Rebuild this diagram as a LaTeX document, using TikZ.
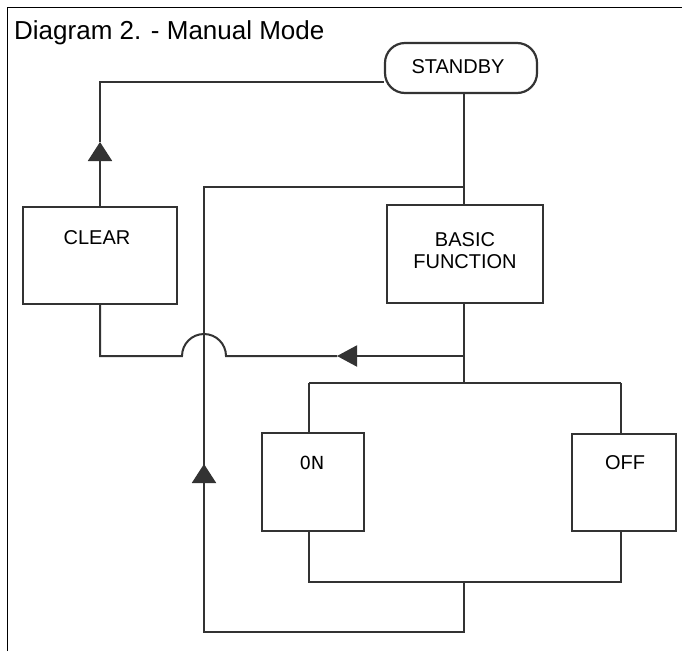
\documentclass[tikz,border=0pt]{standalone}
\usepackage{fontspec}
\setmainfont{Liberation Sans}
\newfontfamily\zerofont{DejaVu Sans}
\usetikzlibrary{arrows.meta,backgrounds}
\tikzset{
  wire/.style={draw=black!80, line width=2pt},
  boxnode/.style={draw=black!80, line width=2.2pt, fill=white, inner sep=0pt},
  lbl/.style={font=\fontsize{20}{22}\selectfont, align=center, inner sep=0pt},
  uptip/.style={-{Triangle[length=19pt,width=24pt]}},
  lefttip/.style={-{Triangle[length=20pt,width=21pt]}},
}
\begin{document}
\begin{tikzpicture}[x=1pt,y=-1pt]
\useasboundingbox (0,0) rectangle (682,651);
% frame
\draw[black, line width=1pt] (7,651) -- (7,7) -- (682,7);
\node[anchor=base west, font=\fontsize{26}{28}\selectfont, inner sep=0pt] (title) at (14,39) {Diagram 2. - Manual Mode};
% boxes
\node[boxnode, rounded corners=20pt, minimum width=152pt, minimum height=50pt] (standby) at (461,68) {};
\node[lbl] (standbyt) at (458,67) {STANDBY};
\node[boxnode, minimum width=154pt, minimum height=97pt] (clear) at (100,255.5) {};
\node[lbl] (cleart) at (97,238) {CLEAR};
\node[boxnode, minimum width=156pt, minimum height=98pt] (basic) at (465,254) {};
\node[lbl] (basict) at (465,251) {BASIC\\FUNCTION};
\node[boxnode, minimum width=102pt, minimum height=98pt] (on) at (313,482) {};
\node[lbl, font=\zerofont\fontsize{18}{20}\selectfont] (ont) at (312,463) {0N};
\node[boxnode, minimum width=104pt, minimum height=97pt] (off) at (624,482.5) {};
\node[lbl] (offt) at (625,463) {OFF};
% junction coordinates
\coordinate (a1) at (100,82);
\coordinate (a2) at (100,142);
\coordinate (j1) at (464,187);
\coordinate (j1l) at (204,187);
\coordinate (j2) at (464,356);
\coordinate (t2) at (337,356);
\coordinate (arcr) at (226,356);
\coordinate (arcl) at (182,356);
\coordinate (c2) at (100,356);
\coordinate (j3) at (464,383);
\coordinate (onup) at (309,383);
\coordinate (offup) at (621,383);
\coordinate (ondn) at (309,582);
\coordinate (offdn) at (621,582);
\coordinate (j4) at (464,582);
\coordinate (b1) at (464,632);
\coordinate (b2) at (204,632);
\coordinate (t3) at (204,464);
\begin{scope}[on background layer]
% STANDBY -> CLEAR
\draw[wire] (standby.west |- a1) -- (a1) -- (a2);
\draw[wire, uptip] (clear.north) -- (a2);
% STANDBY -> BASIC
\draw[wire] (standby.south -| j1) -- (basic.north -| j1);
% BASIC -> bus
\draw[wire] (basic.south -| j1) -- (j3);
% return to CLEAR with jump
\draw[wire, lefttip] (j2) -- (t2);
\draw[wire] (t2) -- (arcr) arc[start angle=0, end angle=180, radius=22pt] -- (c2) -- (clear.south);
% split to ON / OFF
\draw[wire] (onup) -- (offup);
\draw[wire] (onup) -- (on.north -| onup);
\draw[wire] (offup) -- (off.north -| offup);
% merge ON / OFF
\draw[wire] (on.south -| ondn) -- (ondn) -- (offdn) -- (off.south -| offdn);
\draw[wire] (j4) -- (b1) -- (b2) -- (t3);
\draw[wire, uptip] (b2) -- (t3);
\draw[wire] (t3) -- (j1l) -- (j1);
\end{scope}
\end{tikzpicture}
\end{document}
